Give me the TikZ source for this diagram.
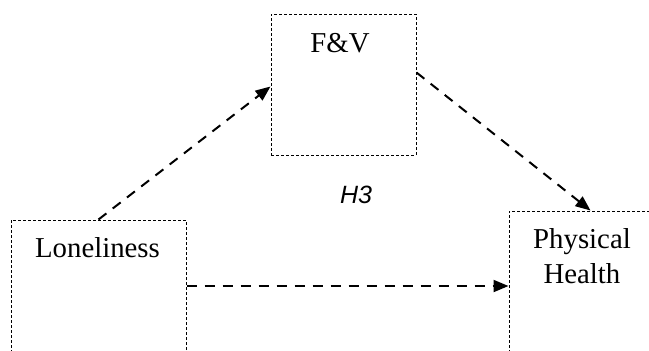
\documentclass[tikz,border=0pt]{standalone}
\usepackage{fontspec}
\setmainfont{Liberation Serif}
\newfontfamily\hfont{Liberation Sans}
\usetikzlibrary{arrows.meta}

\begin{document}
\begin{tikzpicture}[x=0.5pt,y=-0.5pt,
  box/.style={draw,line width=0.5pt,dash pattern=on 1.5pt off 1pt,inner sep=0pt},
  txt/.style={anchor=base,align=center,inner sep=0pt,font=\fontsize{14.4}{17.5}\selectfont},
  path/.style={line width=1pt,dash pattern=on 5pt off 4pt,-{Triangle[length=7.5pt,width=6pt]}}]
%\draw[help lines] (0,0) grid (649,350);
\useasboundingbox (0,0) rectangle (649,350);
\clip (0,0) rectangle (649,350);
\foreach \x/\y/\w/\h/\n in {343.5/84.5/72.5/70.5/fv, 98.5/310/87.5/90/lon, 594.5/305.5/85.5/94.5/ph}
  \node[box,minimum width=\w pt,minimum height=\h pt] (\n) at (\x,\y) {};
\foreach \x/\y/\n/\t in {340/52/fvtext/F\&V, 97.5/257/lontext/Loneliness, 582/283/phtext/Physical\\Health}
  \node[txt] (\n) at (\x,\y) {\t};
\node[anchor=base,inner sep=0pt,font=\hfont\itshape\fontsize{12.5}{15}\selectfont] (h3) at (356,203) {H3};
\draw[path] (lon.north) -- ([yshift=-1pt]fv.west);
\draw[path] ([yshift=6pt]fv.east) -- ([xshift=-2pt]ph.north);
\draw[path] ([yshift=12pt]lon.east) -- ([yshift=9.75pt]ph.west);
\end{tikzpicture}
\end{document}
